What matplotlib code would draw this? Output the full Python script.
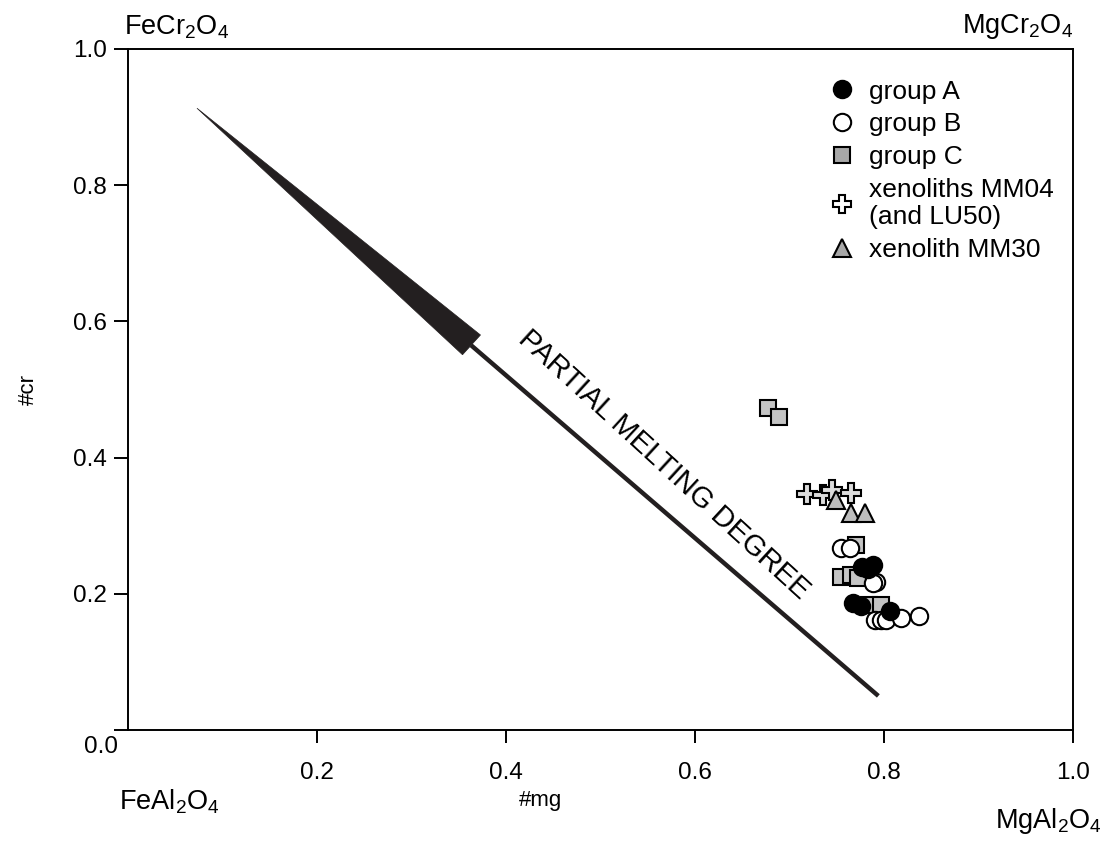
import numpy as np
import matplotlib.pyplot as plt
from matplotlib.lines import Line2D
from matplotlib.patches import Polygon

plt.rcParams['font.family'] = ['Liberation Sans', 'DejaVu Sans']
plt.rcParams['mathtext.default'] = 'regular'

# group A (black circles)
a_mg = [0.777, 0.788, 0.783, 0.767, 0.776, 0.806]
a_cr = [0.240, 0.242, 0.236, 0.186, 0.182, 0.175]

# group B (open circles)
b_mg = [0.754, 0.764, 0.791, 0.788, 0.790, 0.797, 0.802, 0.818, 0.837]
b_cr = [0.267, 0.267, 0.218, 0.216, 0.162, 0.162, 0.162, 0.164, 0.167]

# group C (grey squares)
c_mg = [0.677, 0.689, 0.770, 0.754, 0.765, 0.773, 0.784, 0.797]
c_cr = [0.473, 0.460, 0.272, 0.225, 0.228, 0.223, 0.184, 0.184]

# xenoliths MM04 (and LU50)
x04_mg = [0.719, 0.735, 0.745, 0.765]
x04_cr = [0.347, 0.345, 0.352, 0.348]

# xenolith MM30
x30_mg = [0.749, 0.765, 0.780]
x30_cr = [0.338, 0.318, 0.318]

# partial melting arrow
head_mg = [0.073, 0.373, 0.354]
head_cr = [0.913, 0.580, 0.551]
shaft_mg = [0.363, 0.794]
shaft_cr = [0.565, 0.050]

fig = plt.figure(figsize=(11.07, 8.44), dpi=100)
ax = fig.add_axes([0.1156, 0.1351, 0.8537, 0.8069])

ms = 12.5
ew = 1.5
grey = '#c4c4c4'
fs = 17.5

ax.add_patch(Polygon(np.column_stack([head_mg, head_cr]), closed=True,
                     facecolor='#231f20', edgecolor='#231f20', lw=0.5))
ax.plot(shaft_mg, shaft_cr, color='#231f20', lw=3.2, solid_capstyle='butt')

ax.plot(c_mg, c_cr, 's', ms=ms * 0.95, mfc=grey, mec='black', mew=ew, ls='none')
ax.plot(x04_mg, x04_cr, 'P', ms=ms * 1.1, mfc='#dcdcdc', mec='black', mew=ew, ls='none')
ax.plot(x30_mg, x30_cr, '^', ms=ms, mfc='#bdbdbd', mec='black', mew=ew, ls='none')
ax.plot(b_mg, b_cr, 'o', ms=ms, mfc='white', mec='black', mew=ew, ls='none')
ax.plot(a_mg, a_cr, 'o', ms=ms, mfc='black', mec='black', mew=ew, ls='none')

ax.text(0.567, 0.389, 'PARTIAL MELTING DEGREE', rotation=-42.5, rotation_mode='anchor',
        ha='center', va='center', fontsize=21)

ax.set_xlim(0, 1)
ax.set_ylim(0, 1)
ax.set_xticks([0.2, 0.4, 0.6, 0.8, 1.0])
ax.set_xticklabels(['0.2', '0.4', '0.6', '0.8', '1.0'])
ax.set_yticks([0.0, 0.2, 0.4, 0.6, 0.8, 1.0])
ax.set_yticklabels(['', '0.2', '0.4', '0.6', '0.8', '1.0'])
ax.tick_params(axis='x', direction='out', length=9, width=1.4, pad=14, labelsize=fs)
ax.tick_params(axis='y', direction='out', length=10, width=1.4, pad=5, labelsize=fs)
for s in ax.spines.values():
    s.set_linewidth(1.4)

ax.text(-0.011, -0.025, '0.0', ha='right', va='center', fontsize=fs,
        transform=ax.transAxes)

ax.set_ylabel('#cr', fontsize=16)
ax.yaxis.set_label_coords(-0.094, 0.5)
ax.set_xlabel('#mg', fontsize=16)
ax.xaxis.set_label_coords(0.436, -0.088)

ax.text(-0.004, 1.012, r'FeCr$_2$O$_4$', fontsize=19.5, ha='left', va='bottom',
        transform=ax.transAxes)
ax.text(1.0, 1.012, r'MgCr$_2$O$_4$', fontsize=19.5, ha='right', va='bottom',
        transform=ax.transAxes)
ax.text(-0.009, -0.085, r'FeAl$_2$O$_4$', fontsize=19.5, ha='left', va='top',
        transform=ax.transAxes)
ax.text(1.03, -0.112, r'MgAl$_2$O$_4$', fontsize=19.5, ha='right', va='top',
        transform=ax.transAxes)

handles = [
    Line2D([], [], marker='o', ls='none', ms=ms, mfc='black', mec='black', mew=ew),
    Line2D([], [], marker='o', ls='none', ms=ms, mfc='white', mec='black', mew=ew),
    Line2D([], [], marker='s', ls='none', ms=ms * 0.9, mfc='#a8a8a8', mec='black', mew=ew),
    Line2D([], [], marker='P', ls='none', ms=ms, mfc='white', mec='black', mew=ew),
    Line2D([], [], marker='^', ls='none', ms=ms, mfc='#a8a8a8', mec='black', mew=ew),
]
labels = ['group A', 'group B', 'group C', 'xenoliths MM04\n(and LU50)', 'xenolith MM30']
ax.legend(handles, labels, loc='upper left', bbox_to_anchor=(0.716, 0.99),
          frameon=False, fontsize=19, handletextpad=0.55, labelspacing=0.33,
          handlelength=1.0)

fig.savefig('out.png', dpi=100)
